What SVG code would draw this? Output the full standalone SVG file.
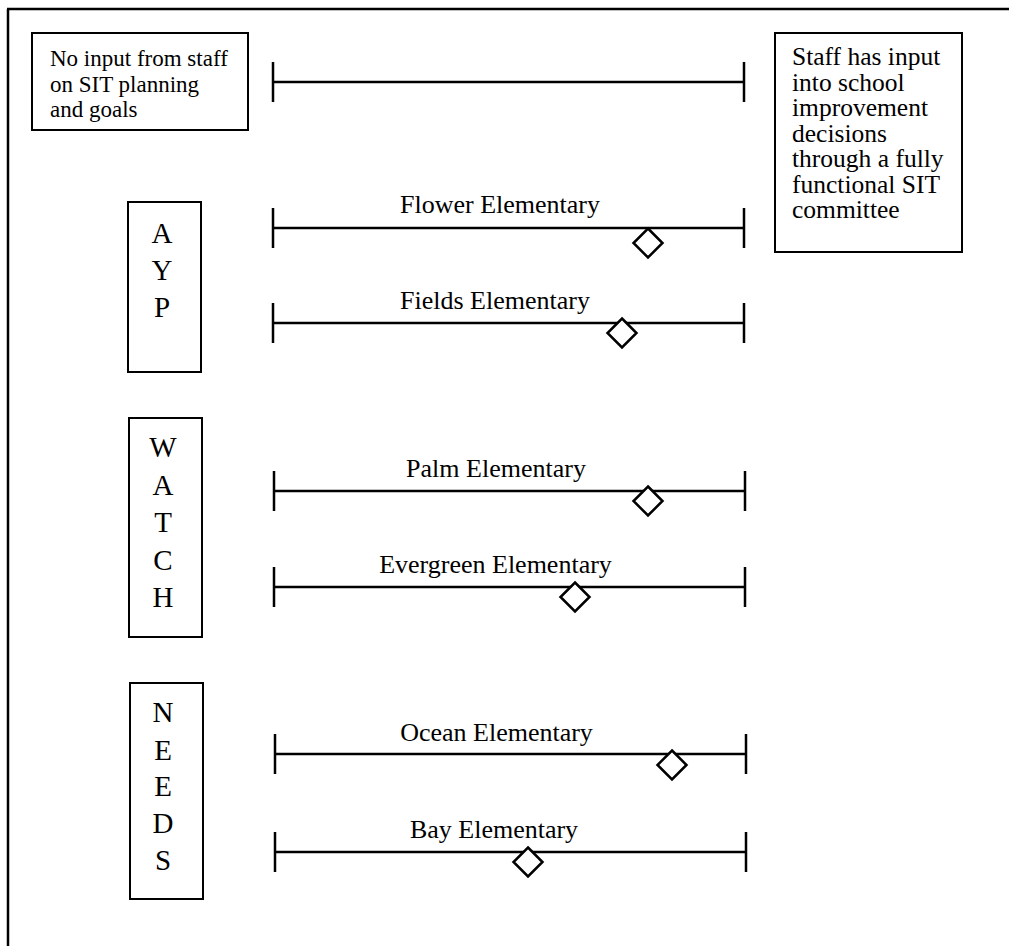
<svg xmlns="http://www.w3.org/2000/svg" width="1009" height="946" viewBox="0 0 1009 946">
  <style>
    .frame { stroke: #000; stroke-width: 2.5; fill: none; }
    .box { fill: #fff; stroke: #000; stroke-width: 2; }
    .bar { stroke: #000; stroke-width: 2.5; fill: none; }
    .mark { fill: #fff; stroke: #000; stroke-width: 2.5; }
    .txt { font-family: "Liberation Serif", "Times New Roman", serif; fill: #000; }
    .note-l { font-size: 23px; }
    .note-r { font-size: 25.5px; }
    .label { font-size: 26px; text-anchor: middle; }
    .cat { font-size: 29px; text-anchor: middle; }
  </style>
  <defs>
    <!-- rating scale: horizontal bar with end ticks, 471 wide -->
    <path id="scale" d="M0,0 H471 M0,-20 V20 M471,-20 V20"/>
    <path id="diamond" d="M0,-14.5 L14.5,0 L0,14.5 L-14.5,0 Z"/>
  </defs>

  <rect width="1009" height="946" fill="#fff"/>

  <!-- page frame (top and left edges) -->
  <path class="frame" d="M7,9 H1009 M8,9 V946"/>

  <!-- scale end descriptors -->
  <g id="low-end">
    <rect class="box" x="32" y="33" width="216" height="97"/>
    <text class="txt note-l" x="50" y="66">No input from staff</text>
    <text class="txt note-l" x="50" y="91.5">on SIT planning</text>
    <text class="txt note-l" x="50" y="117">and goals</text>
  </g>
  <g id="high-end">
    <rect class="box" x="775" y="33" width="187" height="219"/>
    <text class="txt note-r" x="792" y="65">Staff has input</text>
    <text class="txt note-r" x="792" y="90.5">into school</text>
    <text class="txt note-r" x="792" y="116">improvement</text>
    <text class="txt note-r" x="792" y="141.5">decisions</text>
    <text class="txt note-r" x="792" y="167">through a fully</text>
    <text class="txt note-r" x="792" y="192.5">functional SIT</text>
    <text class="txt note-r" x="792" y="218">committee</text>
  </g>

  <!-- category boxes -->
  <g id="cat-ayp">
    <rect class="box" x="128" y="202" width="73" height="170"/>
    <text class="txt cat" x="162" y="243">A</text>
    <text class="txt cat" x="162" y="280">Y</text>
    <text class="txt cat" x="162" y="317">P</text>
  </g>
  <g id="cat-watch">
    <rect class="box" x="129" y="418" width="73" height="219"/>
    <text class="txt cat" x="163" y="457">W</text>
    <text class="txt cat" x="163" y="495">A</text>
    <text class="txt cat" x="163" y="532">T</text>
    <text class="txt cat" x="163" y="570">C</text>
    <text class="txt cat" x="163" y="607">H</text>
  </g>
  <g id="cat-needs">
    <rect class="box" x="130" y="683" width="73" height="216"/>
    <text class="txt cat" x="163" y="722">N</text>
    <text class="txt cat" x="163" y="760">E</text>
    <text class="txt cat" x="163" y="796">E</text>
    <text class="txt cat" x="163" y="833">D</text>
    <text class="txt cat" x="163" y="870">S</text>
  </g>

  <!-- scales -->
  <g id="connectors">
    <use href="#scale" class="bar" x="273" y="82"/>
    <use href="#scale" class="bar" x="273" y="228"/>
    <use href="#scale" class="bar" x="273" y="323"/>
    <use href="#scale" class="bar" x="274" y="491"/>
    <use href="#scale" class="bar" x="274" y="587"/>
    <use href="#scale" class="bar" x="275" y="754"/>
    <use href="#scale" class="bar" x="275" y="852"/>
  </g>

  <!-- school ratings -->
  <g id="flower">
    <text class="txt label" x="500" y="213">Flower Elementary</text>
    <use href="#diamond" class="mark" x="648" y="243"/>
  </g>
  <g id="fields">
    <text class="txt label" x="495" y="309">Fields Elementary</text>
    <use href="#diamond" class="mark" x="622" y="333"/>
  </g>
  <g id="palm">
    <text class="txt label" x="496" y="477">Palm Elementary</text>
    <use href="#diamond" class="mark" x="648" y="501"/>
  </g>
  <g id="evergreen">
    <text class="txt label" x="495.5" y="573">Evergreen Elementary</text>
    <use href="#diamond" class="mark" x="575" y="597"/>
  </g>
  <g id="ocean">
    <text class="txt label" x="496.5" y="741">Ocean Elementary</text>
    <use href="#diamond" class="mark" x="672" y="765"/>
  </g>
  <g id="bay">
    <text class="txt label" x="494" y="838">Bay Elementary</text>
    <use href="#diamond" class="mark" x="528" y="862"/>
  </g>
</svg>
